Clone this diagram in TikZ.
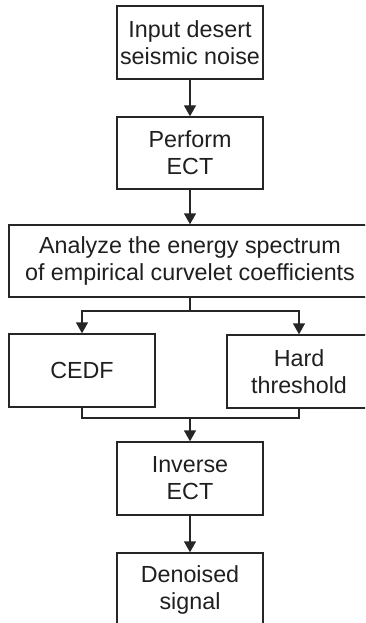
\documentclass[tikz,border=0pt]{standalone}
\usepackage{fontspec}
\setmainfont{Liberation Sans}
\usetikzlibrary{arrows.meta}
\begin{document}
\begin{tikzpicture}[x=1pt,y=-1pt,
  box/.style={draw=black!85,line width=1.4pt,rectangle,inner sep=0pt,align=center,
    text=black!88,font=\fontsize{23.3}{27}\selectfont},
  conn/.style={draw=black!85,line width=1.4pt},
  arr/.style={conn,-{Triangle[width=12pt,length=11pt]}}]
\useasboundingbox (0,0) rectangle (365,623);
\clip (0,0) rectangle (365,623);
\node[box,minimum width=146pt,minimum height=73pt] (b1) at (190,42.5) {Input desert\\seismic noise};
\node[box,minimum width=146pt,minimum height=72pt] (b2) at (190,153) {Perform\\ECT};
\node[box,minimum width=362pt,minimum height=72pt] (b3) at (190,261) {Analyze the energy spectrum\\of empirical curvelet coefficients};
\node[box,minimum width=146pt,minimum height=73pt] (cedf) at (82,370.5) {CEDF};
\node[box,minimum width=144pt,minimum height=73pt] (hard) at (299,371.5) {Hard\\threshold};
\node[box,minimum width=146pt,minimum height=73pt] (inv) at (190,478.5) {Inverse\\ECT};
\node[box,minimum width=146pt,minimum height=74pt] (den) at (190,590) {Denoised\\signal};
\coordinate (sp) at (190,311);
\coordinate (mg) at (190,418);
\draw[arr] (b1.south) -- (b2.north);
\draw[arr] (b2.south) -- (b3.north);
\draw[conn] (b3.south) -- (sp);
\draw[arr] (sp) -| (cedf.north);
\draw[arr] (sp) -| (hard.north);
\draw[conn] (cedf.south) |- (mg);
\draw[conn] (hard.south) |- (mg);
\draw[arr] (mg) -- (inv.north);
\draw[arr] (inv.south) -- (den.north);
\end{tikzpicture}
\end{document}
